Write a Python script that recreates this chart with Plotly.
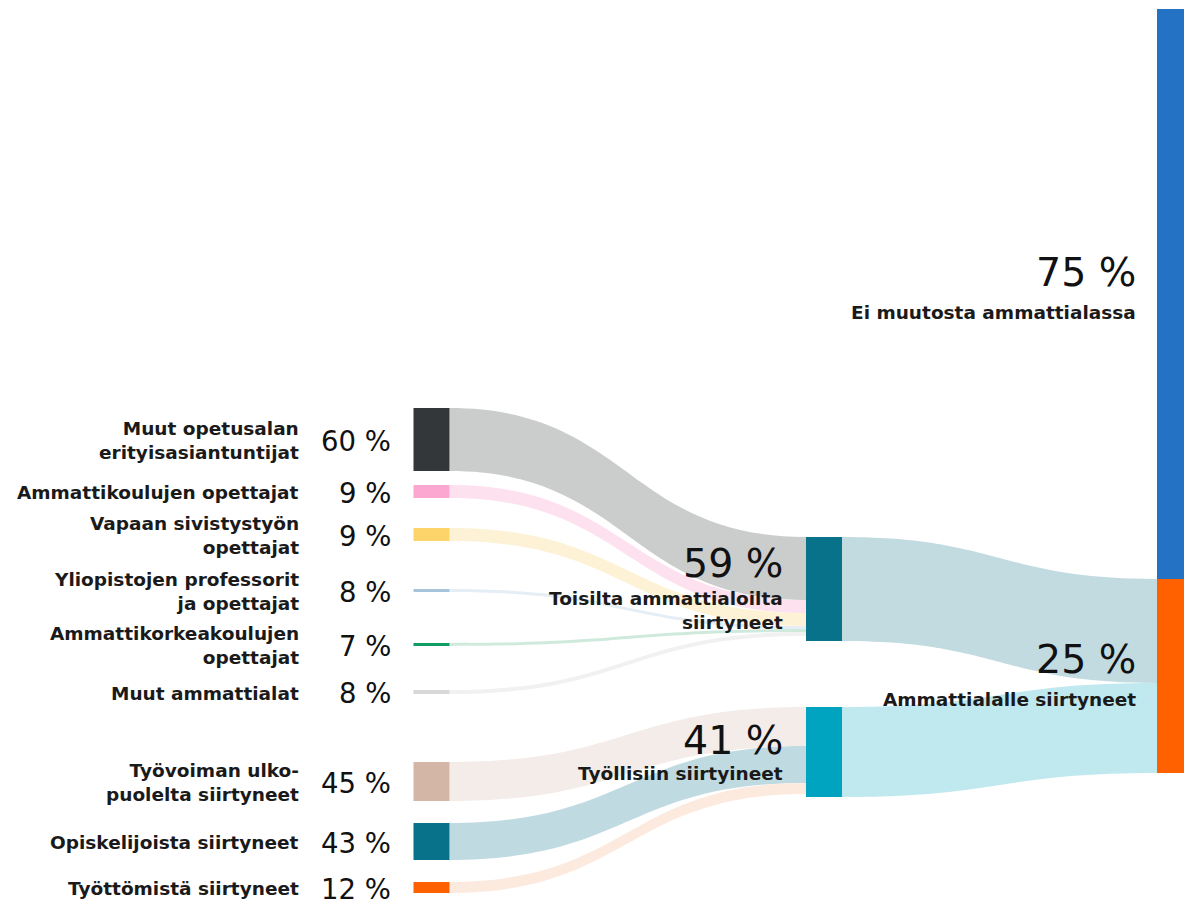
import plotly.graph_objects as go

# ---------------- data ----------------
source_names = [
    "Muut opetusalan<br>erityisasiantuntijat",
    "Ammattikoulujen opettajat",
    "Vapaan sivistystyön<br>opettajat",
    "Yliopistojen professorit<br>ja opettajat",
    "Ammattikorkeakoulujen<br>opettajat",
    "Muut ammattialat",
    "Työvoiman ulko-<br>puolelta siirtyneet",
    "Opiskelijoista siirtyneet",
    "Työttömistä siirtyneet",
]
source_pct = [60, 9, 9, 8, 7, 8, 45, 43, 12]
# visual flow sizes
source_flow = [63, 13, 13, 3, 3, 4, 39, 37, 11]

middle_names = ["Toisilta ammattialoilta<br>siirtyneet", "Työllisiin siirtyineet"]
middle_pct = [59, 41]
middle_flow = [104, 90]

right_names = ["Ei muutosta ammattialassa", "Ammattialalle siirtyneet"]
right_pct = [75, 25]
right_flow = [570, 194]

# ---------------- styles ----------------
source_colors = ["#33373a", "#fca7d2", "#fdd46a", "#a8c3dc", "#0f9d63",
                 "#d8d8d8", "#d3b6a6", "#08728a", "#ff6100"]
source_link_colors = ["#cbcccc", "#fde1ef", "#fdf2d6", "#e5edf5", "#cfeadd",
                      "#f1f1f1", "#f3ece9", "#c0dae1", "#fdeadf"]
middle_colors = ["#08728a", "#00a4c0"]
middle_link_colors = ["#c2dbe1", "#c0e8ef"]
right_colors = ["#2372c4", "#ff6100"]

W, H = 1184, 904
FONT = "DejaVu Sans"

# node centre positions (fractions of plot area)
src_x = 431.5 / W
src_y_px = [439.5, 491.5, 534.5, 590.5, 644.5, 692, 781.5, 841.5, 887.5]
mid_x = 824 / W
mid_y_px = [589, 752]
right_x = 1175 / W
right_y_px = [294, 676]

n_src = len(source_names)
i_mid = [n_src, n_src + 1]
i_right = [n_src + 2, n_src + 3]
i_hidden = n_src + 4

node_x = [src_x] * n_src + [mid_x] * 2 + [right_x] * 2 + [right_x]
node_y = [y / H for y in src_y_px] + [y / H for y in mid_y_px] + \
         [y / H for y in right_y_px] + [right_y_px[0] / H]
node_colors = source_colors + middle_colors + right_colors + ["rgba(0,0,0,0)"]

link_s, link_t, link_v, link_c = [], [], [], []
for i in range(n_src):
    link_s.append(i)
    link_t.append(i_mid[0] if i < 6 else i_mid[1])
    link_v.append(source_flow[i])
    link_c.append(source_link_colors[i])
for j in range(2):
    link_s.append(i_mid[j])
    link_t.append(i_right[1])
    link_v.append(middle_flow[j])
    link_c.append(middle_link_colors[j])
# invisible feeder so the "no change" bar gets its height
link_s.append(i_hidden)
link_t.append(i_right[0])
link_v.append(right_flow[0])
link_c.append("rgba(0,0,0,0)")

# padding chosen so that the busiest column fills the plot height
col0_total = sum(source_flow) + right_flow[0]
pad = (H - col0_total) / n_src

fig = go.Figure(go.Sankey(
    arrangement="fixed",
    node=dict(
        pad=pad,
        thickness=36,
        x=node_x,
        y=node_y,
        color=node_colors,
        line=dict(width=0),
        label=[""] * len(node_x),
        hoverinfo="none",
    ),
    link=dict(
        source=link_s,
        target=link_t,
        value=link_v,
        color=link_c,
        hoverinfo="none",
    ),
))

ann = []
lab_font = dict(family=FONT, size=18.5, color="#1a1a1a", weight="bold")
pct_font = dict(family=FONT, size=27.5, color="#111111")
big_font = dict(family=FONT, size=39.5, color="#111111")


def add(text, xpx, ypx, font):
    ann.append(dict(text=text, x=xpx / W, y=1 - ypx / H, xref="paper", yref="paper",
                    xanchor="right", yanchor="middle", showarrow=False, font=font,
                    align="right"))


for name, pct, ypx in zip(source_names, source_pct, src_y_px):
    add(name, 301, ypx + 1, lab_font)
    add(f"{pct} %", 393, ypx + 1, pct_font)

# middle labels
add(f"{middle_pct[0]} %", 785, 563, big_font)
add(middle_names[0], 785, 610, lab_font)
add(f"{middle_pct[1]} %", 785, 740, big_font)
add(middle_names[1], 785, 773, lab_font)

# right labels
add(f"{right_pct[0]} %", 1138, 272, big_font)
add(right_names[0], 1138, 312, lab_font)
add(f"{right_pct[1]} %", 1138, 659, big_font)
add(right_names[1], 1138, 699, lab_font)

fig.update_layout(
    width=W, height=H,
    margin=dict(l=0, r=0, t=0, b=0),
    paper_bgcolor="white",
    plot_bgcolor="white",
    annotations=ann,
    font=dict(family=FONT),
)

fig.write_html("out.html", config={"displayModeBar": False},
               post_script="document.body.style.margin='0';")
